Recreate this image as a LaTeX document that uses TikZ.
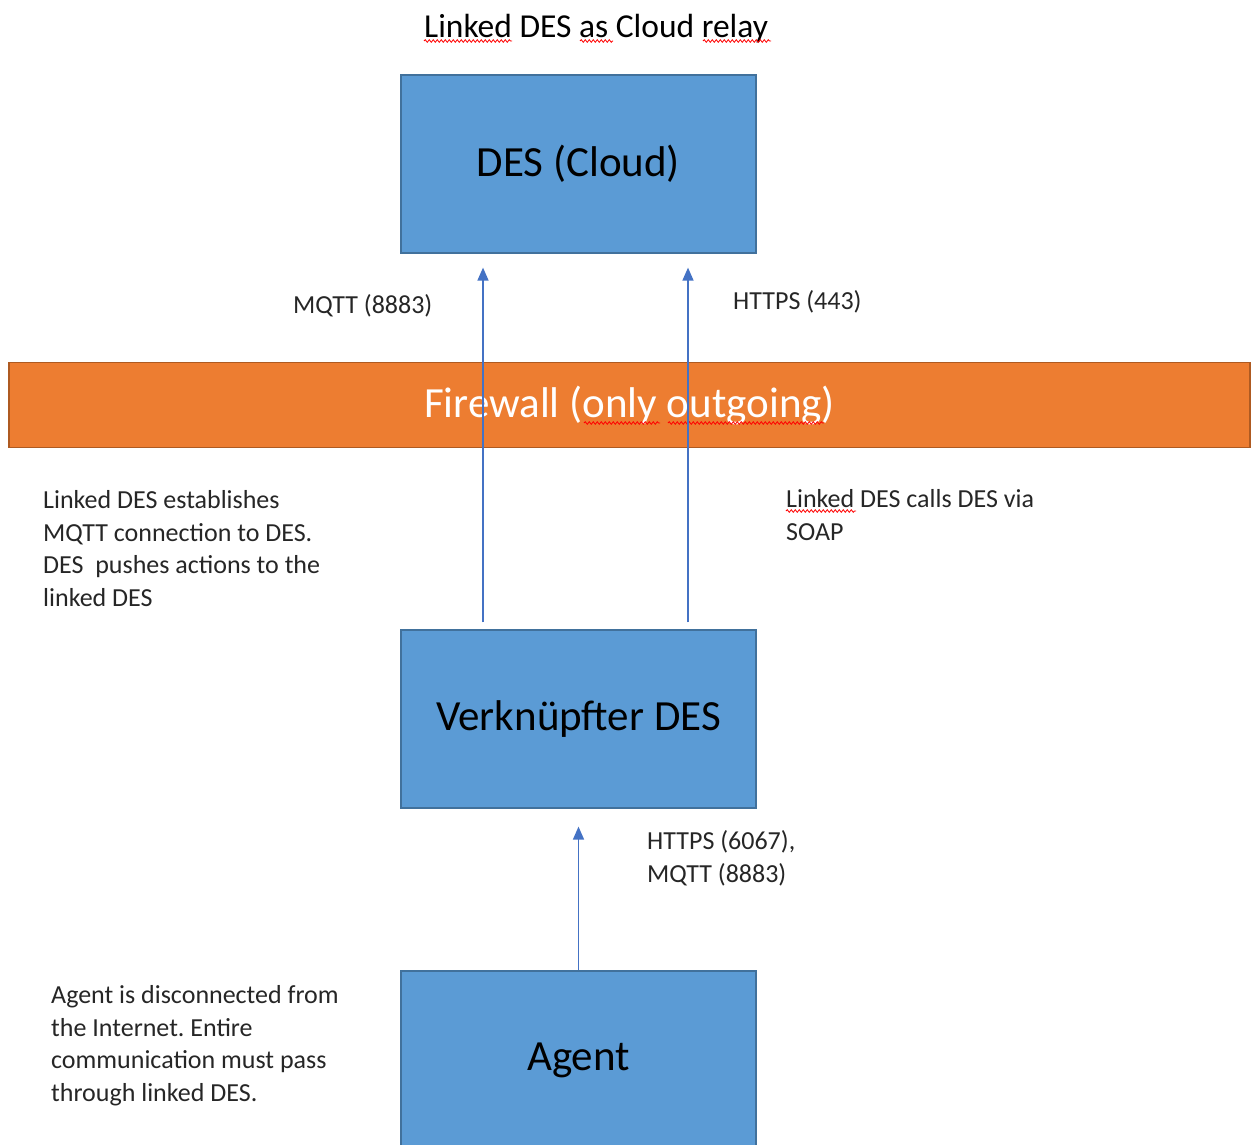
\documentclass[tikz,border=0pt]{standalone}
\usepackage{fontspec}
\setmainfont{Carlito}
\frenchspacing
\usetikzlibrary{arrows.meta,decorations.pathmorphing}
\definecolor{boxblue}{HTML}{5B9BD5}
\definecolor{boxedge}{HTML}{41719C}
\definecolor{fwfill}{HTML}{ED7D31}
\definecolor{fwedge}{HTML}{AE5A21}
\definecolor{arrowblue}{HTML}{4472C4}
\tikzstyle{box}=[draw=boxedge, fill=boxblue, line width=1.2pt, minimum width=355pt, minimum height=178pt, font=\fontsize{43}{50}\selectfont]
\tikzstyle{fw}=[draw=fwedge, fill=fwfill, line width=1.5pt, minimum width=1241pt, minimum height=85pt, text=white, font=\fontsize{43}{50}\selectfont]
\tikzstyle{txt}=[draw=none, inner sep=0pt, anchor=base west, align=left, text=black!85, font=\fontsize{26}{32.5}\selectfont]
\tikzstyle{link}=[arrowblue, line width=1.5pt, -{Triangle[length=13pt,width=11pt]}]
\tikzstyle{sq}=[red, line width=0.8pt, decorate, decoration={snake, amplitude=1.3pt, segment length=4pt}]

\begin{document}
\begin{tikzpicture}[x=1pt, y=-1pt]
\useasboundingbox (0,0) rectangle (1252,1144);
\node[txt, font=\fontsize{33.5}{40}\selectfont, text=black] (title) at (424,37) {Linked DES as Cloud relay};
\node[box] (cloud) at (578.5,164) {DES (Cloud)};
\node[fw] (fw) at (629.5,405) {Firewall (only outgoing)};
\node[box] (verk) at (578.5,719) {Verknüpfter DES};
\node[box] (agent) at (578.5,1060) {Agent};
% multi-line notes: placed at the baseline of their last line
\node[txt] (mqtt) at (293,313) {MQTT (8883)};
\node[txt] (https) at (733,309) {HTTPS (443)};
\node[txt] (mqttnote) at (43,606) {Linked DES establishes\\MQTT connection to DES.\\DES\ \ pushes actions to the\\linked DES};
\node[txt] (soapnote) at (786,540) {Linked DES calls DES via\\SOAP};
\node[txt] (agentport) at (647,882) {HTTPS (6067),\\MQTT (8883)};
\node[txt] (agentnote) at (51,1101) {Agent is disconnected from\\the Internet. Entire\\communication must pass\\through linked DES.};
% spell check marks
\foreach \a/\b/\y in {424/512/41, 580/613/41, 703/771/41, 584/660/423, 668/824/423, 786/856/511}
  \draw[sq] (\a,\y) -- (\b,\y);
\draw[link, shorten <=7pt, shorten >=14pt] ([xshift=-95.5pt]verk.north) -- ([xshift=-95.5pt]cloud.south);
\draw[link, shorten <=7pt, shorten >=14pt] ([xshift=109.5pt]verk.north) -- ([xshift=109.5pt]cloud.south);
\draw[link, shorten >=18pt] (agent.north) -- (verk.south);
\end{tikzpicture}
\end{document}
